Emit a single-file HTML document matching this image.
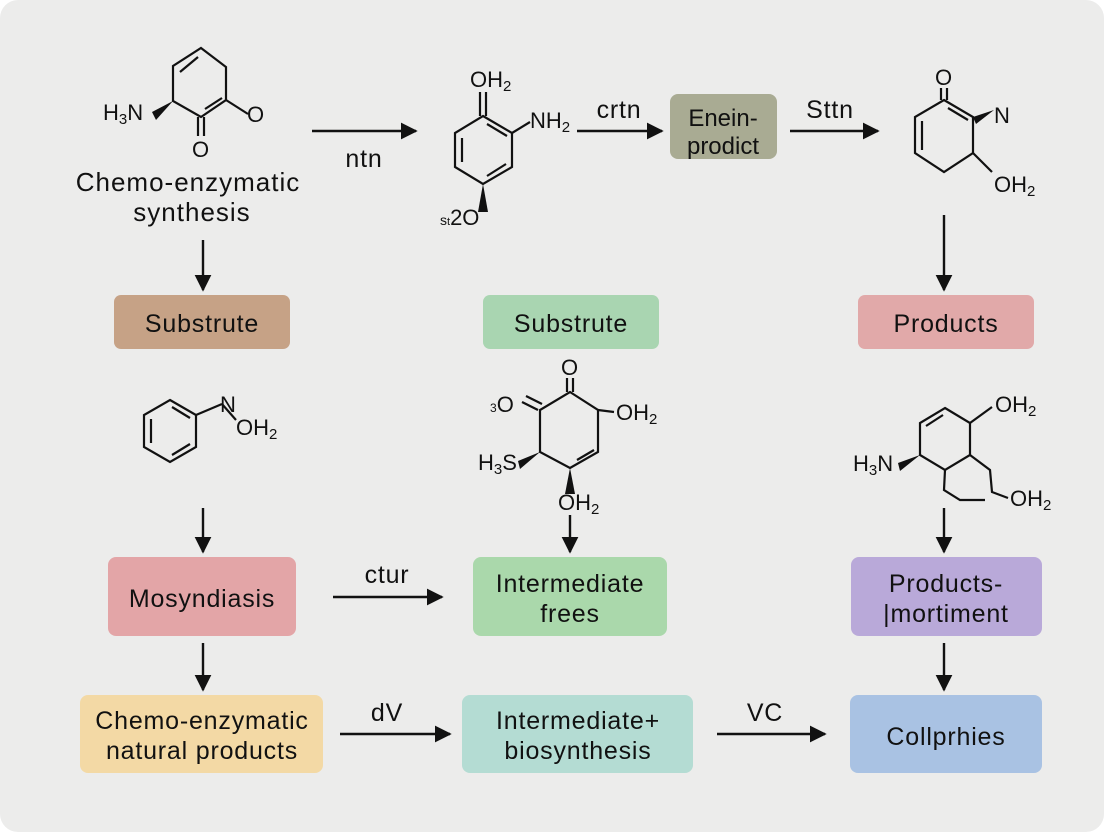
<!DOCTYPE html>
<html><head><meta charset="utf-8"><style>
html,body{margin:0;padding:0;background:#fff}
svg{display:block}
text{font-family:"Liberation Sans",sans-serif;fill:#111}
</style></head><body>
<svg width="1104" height="832" viewBox="0 0 1104 832" xmlns="http://www.w3.org/2000/svg">
<defs><marker id="ah" viewBox="0 0 10 10" refX="9" refY="5" markerWidth="7" markerHeight="7" orient="auto"><path d="M0,0 L10,5 L0,10 z" fill="#111"/></marker></defs>
<rect x="0" y="0" width="1104" height="832" rx="18" fill="#ececeb"/>
<g stroke="#111" stroke-width="2.2" fill="none">
<polygon points="201,48 226,67 226,100 201,117 173,101 173,66"/>
<line x1="180" y1="72" x2="198" y2="57"/><line x1="205" y1="109" x2="222" y2="98"/>
<line x1="226" y1="100" x2="248" y2="114"/>
<line x1="198" y1="117" x2="198" y2="136"/><line x1="204" y1="117" x2="204" y2="136"/>
<polygon points="483,116 512,133 512,167 483,184 455,167 455,133"/>
<line x1="462" y1="138" x2="462" y2="162"/><line x1="487" y1="124" x2="507" y2="136"/><line x1="487" y1="176" x2="506" y2="164"/>
<line x1="480" y1="116" x2="480" y2="92"/><line x1="486" y1="116" x2="486" y2="92"/>
<line x1="512" y1="133" x2="530" y2="122"/>
<polygon points="944,100 973,117 973,153 944,172 915,153 915,117"/>
<line x1="941" y1="100" x2="941" y2="88"/><line x1="947" y1="100" x2="947" y2="88"/>
<line x1="922" y1="121" x2="922" y2="150"/><line x1="948" y1="108" x2="968" y2="120"/>
<line x1="973" y1="153" x2="992" y2="172"/>
<polygon points="170,400 196,415 196,447 170,462 144,447 144,415"/>
<line x1="151" y1="419" x2="151" y2="443"/><line x1="172" y1="455" x2="190" y2="444"/><line x1="172" y1="407" x2="190" y2="418"/>
<line x1="196" y1="415" x2="222" y2="404"/><line x1="222" y1="404" x2="236" y2="420"/>
<polygon points="570,392 598,410 598,452 570,468 540,452 540,410"/>
<line x1="567" y1="392" x2="567" y2="378"/><line x1="573" y1="392" x2="573" y2="378"/>
<line x1="538" y1="410" x2="522" y2="402"/><line x1="542" y1="404" x2="526" y2="396"/>
<line x1="598" y1="410" x2="614" y2="412"/>
<line x1="577" y1="460" x2="594" y2="450"/>
<polygon points="945,408 970,423 970,455 945,470 920,455 920,423"/>
<line x1="926" y1="426" x2="943" y2="415"/>
<line x1="970" y1="423" x2="992" y2="407"/>
<polyline points="970,455 990,470 992,492 1008,498"/>
<polyline points="945,470 944,490 960,500 985,500"/>
</g>
<g fill="#111">
<polygon points="152,112 173,101 156,120"/>
<polygon points="483,184 478,212 488,212"/>
<polygon points="973,117 994,110 976,124"/>
<polygon points="518,461 540,452 520,469"/>
<polygon points="570,468 565,494 575,494"/>
<polygon points="898,463 920,455 900,471"/>
</g>
<g font-size="22">
<text x="103" y="120">H<tspan font-size="15" dy="4">3</tspan><tspan dy="-4">N</tspan></text>
<text x="247" y="122">O</text>
<text x="192" y="157">O</text>
<text x="470" y="87">OH<tspan font-size="15" dy="4">2</tspan></text>
<text x="530" y="128">NH<tspan font-size="15" dy="4">2</tspan></text>
<text x="440" y="225"><tspan font-size="14">s</tspan><tspan font-size="11">t</tspan>2O</text>
<text x="935" y="85">O</text>
<text x="994" y="123">N</text>
<text x="994" y="192">OH<tspan font-size="15" dy="4">2</tspan></text>
<text x="220" y="412">N</text>
<text x="236" y="435">OH<tspan font-size="15" dy="4">2</tspan></text>
<text x="561" y="375">O</text>
<text x="490" y="412"><tspan font-size="12">3</tspan>O</text>
<text x="616" y="420">OH<tspan font-size="15" dy="4">2</tspan></text>
<text x="478" y="470">H<tspan font-size="15" dy="4">3</tspan><tspan dy="-4">S</tspan></text>
<text x="558" y="510">OH<tspan font-size="15" dy="4">2</tspan></text>
<text x="995" y="412">OH<tspan font-size="15" dy="4">2</tspan></text>
<text x="853" y="471">H<tspan font-size="15" dy="4">3</tspan><tspan dy="-4">N</tspan></text>
<text x="1010" y="506">OH<tspan font-size="15" dy="4">2</tspan></text>
</g>
<g font-size="26" text-anchor="middle" letter-spacing="1">
<text x="188" y="191">Chemo-enzymatic</text>
<text x="192" y="221">synthesis</text>
</g>
<rect x="670" y="94" width="107" height="65" rx="8" fill="#a9ab93"/>
<rect x="114" y="295" width="176" height="54" rx="7" fill="#c6a286"/>
<rect x="483" y="295" width="176" height="54" rx="7" fill="#a9d5b1"/>
<rect x="858" y="295" width="176" height="54" rx="7" fill="#e1a9a9"/>
<rect x="108" y="557" width="188" height="79" rx="8" fill="#e3a5a7"/>
<rect x="473" y="557" width="194" height="79" rx="8" fill="#aad8ab"/>
<rect x="851" y="557" width="191" height="79" rx="8" fill="#b9a9d9"/>
<rect x="80" y="695" width="243" height="78" rx="8" fill="#f3d9a5"/>
<rect x="462" y="695" width="231" height="78" rx="8" fill="#b4dcd3"/>
<rect x="850" y="695" width="192" height="78" rx="8" fill="#a9c2e3"/>
<text x="723" y="126" font-size="24" text-anchor="middle">Enein-</text>
<text x="723" y="154" font-size="24" text-anchor="middle">prodict</text>
<g font-size="25" text-anchor="middle" letter-spacing="0.8">
<text x="202" y="332">Substrute</text>
<text x="571" y="332">Substrute</text>
<text x="946" y="332">Products</text>
<text x="202" y="607">Mosyndiasis</text>
<text x="570" y="592">Intermediate</text><text x="570" y="622">frees</text>
<text x="946" y="592">Products-</text><text x="946" y="622">|mortiment</text>
<text x="202" y="729">Chemo-enzymatic</text><text x="202" y="759">natural products</text>
<text x="578" y="729">Intermediate+</text><text x="578" y="759">biosynthesis</text>
<text x="946" y="745">Collprhies</text>
<text x="364" y="167">ntn</text>
<text x="619" y="118">crtn</text>
<text x="830" y="118">Sttn</text>
<text x="387" y="583">ctur</text>
<text x="387" y="721">dV</text>
<text x="765" y="721">VC</text>
</g>
<g stroke="#111" stroke-width="2.4" marker-end="url(#ah)">
<line x1="312" y1="131" x2="416" y2="131"/>
<line x1="577" y1="131" x2="662" y2="131"/>
<line x1="790" y1="131" x2="878" y2="131"/>
<line x1="203" y1="240" x2="203" y2="290"/>
<line x1="944" y1="215" x2="944" y2="290"/>
<line x1="203" y1="508" x2="203" y2="552"/>
<line x1="570" y1="515" x2="570" y2="552"/>
<line x1="944" y1="508" x2="944" y2="552"/>
<line x1="203" y1="643" x2="203" y2="690"/>
<line x1="944" y1="643" x2="944" y2="690"/>
<line x1="333" y1="597" x2="442" y2="597"/>
<line x1="340" y1="734" x2="450" y2="734"/>
<line x1="717" y1="734" x2="825" y2="734"/>
</g>
</svg>
</body></html>
